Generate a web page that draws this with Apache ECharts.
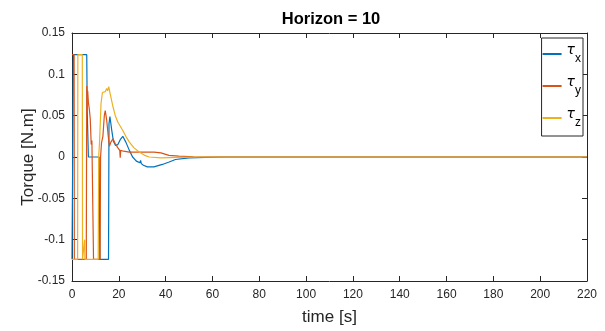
<!DOCTYPE html>
<html>
<head>
<meta charset="utf-8">
<script src="https://cdn.jsdelivr.net/npm/echarts@6/dist/echarts.min.js"></script>
<style>
html,body{margin:0;padding:0;background:#fff;}
#c{width:605px;height:331px;}
</style>
</head>
<body>
<div id="c"></div>
<script>
var S = 0.1238;
// tau_x (blue)
var tX   = [0, 0.5, 0.6, 6.3, 6.5, 7.0, 11.6, 11.8, 11.9, 15.6, 15.8, 16.2, 17.0, 17.7, 18.6, 19.6, 20.6, 21.7, 23.0, 24.5, 25.9, 27.5, 29.0, 29.3, 29.6, 30.5, 32.2, 35.0, 38.6, 41.5, 44.2, 50.0, 57.0, 65.0, 80.0, 220];
var tauX = [-S, -S, S, S, 0.055, 0, 0, -0.08, -S, -S, 0.04, 0.049, 0.032, 0.019, 0.014, 0.015, 0.021, 0.025, 0.018, 0.008, 0.0, -0.005, -0.007, -0.004, -0.008, -0.01, -0.012, -0.012, -0.009, -0.006, -0.003, -0.001, -0.0005, 0, 0, 0];
// tau_y (red)
var tY   = [0, 0.9, 1.0, 6.1, 6.3, 6.5, 6.7, 7.0, 7.4, 7.8, 8.2, 8.5, 9.2, 12.0, 12.2, 12.6, 13.2, 13.8, 14.2, 14.8, 15.5, 16.0, 16.6, 17.5, 18.5, 19.6, 20.4, 20.6, 20.8, 22.0, 24.5, 30.0, 35.0, 38.0, 41.4, 45.6, 52.0, 60.0, 220];
var tauY = [S, S, -S, -S, 0.086, 0.075, 0.08, 0.066, 0.058, 0.046, 0.015, 0.02, -S, -S, 0.0, 0.017, 0.025, 0.05, 0.056, 0.045, 0.025, 0.013, 0.018, 0.022, 0.016, 0.011, 0.008, -0.001, 0.008, 0.007, 0.006, 0.006, 0.006, 0.005, 0.002, 0.001, 0.0003, 0, 0];
// tau_z (yellow)
var tZ   = [0, 2.4, 2.5, 4.4, 4.5, 5.3, 5.4, 5.5, 11.2, 11.4, 11.8, 12.4, 13.0, 13.5, 14.2, 14.8, 15.2, 15.7, 16.2, 17.4, 18.5, 19.6, 21.7, 23.0, 24.5, 26.5, 28.7, 31.0, 33.0, 38.0, 45.0, 55.0, 220];
var tauZ = [-S, -S, S, S, -S, -S, -0.1, -S, -S, 0.0, 0.02, 0.065, 0.078, 0.080, 0.079, 0.083, 0.080, 0.085, 0.078, 0.062, 0.05, 0.042, 0.032, 0.025, 0.018, 0.011, 0.006, 0.002, 0.0, -0.001, -0.0005, 0, 0];

var seriesNames = ['x', 'y', 'z'];
var seriesColors = ['#0072BD', '#D95319', '#EDB120'];
var xTicks = [0, 220, 20];
var yTicks = [-0.15, 0.15, 0.05];

function zip(a, b) { return a.map(function (v, i) { return [v, b[i]]; }); }
var dataSets = [zip(tX, tauX), zip(tY, tauY), zip(tZ, tauZ)];

var axisCol = '#262626';
var chart = echarts.init(document.getElementById('c'), null, {renderer: 'canvas'});
function xAx(pos, showLabel) {
  return {
    type: 'value', position: pos, min: xTicks[0], max: xTicks[1], interval: xTicks[2],
    axisLine: {show: true, onZero: false, lineStyle: {color: axisCol, width: 1}},
    axisTick: {show: true, inside: true, length: 5, lineStyle: {color: axisCol}},
    axisLabel: {show: showLabel, color: axisCol, fontSize: 12, fontFamily: 'Liberation Sans, Arial', margin: 8},
    splitLine: {show: false},
    name: showLabel ? 'time [s]' : '', nameLocation: 'middle', nameGap: 28,
    nameTextStyle: {fontSize: 17, color: axisCol, fontFamily: 'Liberation Sans, Arial'}
  };
}
function yAx(pos, showLabel) {
  return {
    type: 'value', position: pos, min: yTicks[0], max: yTicks[1], interval: yTicks[2],
    axisLine: {show: true, onZero: false, lineStyle: {color: axisCol, width: 1}},
    axisTick: {show: true, inside: true, length: 5, lineStyle: {color: axisCol}},
    axisLabel: {show: showLabel, color: axisCol, fontSize: 12, fontFamily: 'Liberation Sans, Arial', margin: 7,
      formatter: function (v) { return String(+v.toFixed(2)); }},
    splitLine: {show: false},
    name: showLabel ? 'Torque [N.m]' : '', nameLocation: 'middle', nameGap: 35, nameMoveOverlap: false,
    nameTextStyle: {fontSize: 17, color: axisCol, fontFamily: 'Liberation Sans, Arial'}
  };
}

chart.setOption({
  animation: false,
  backgroundColor: '#fff',
  title: {
    text: 'Horizon = 10', left: 326, top: 6, textAlign: 'center',
    textStyle: {fontSize: 16.5, fontWeight: 'bold', color: '#000', fontFamily: 'Liberation Sans, Arial'}
  },
  grid: {left: 72, right: 18, top: 33, bottom: 46, containLabel: false},
  xAxis: [xAx('bottom', true), xAx('top', false)],
  yAxis: [yAx('left', true), yAx('right', false)],
  legend: {
    orient: 'vertical', right: 22, top: 38,
    backgroundColor: '#fff', borderColor: '#262626', borderWidth: 1, borderRadius: 0,
    padding: [5, 2, 7, 1], itemGap: 10, itemWidth: 19, itemHeight: 2, icon: 'rect',
    data: seriesNames.map(function (n) { return {name: n}; }),
    formatter: function (n) { return '{t|τ}{s|' + n + '}'; },
    textStyle: {
      color: '#000',
      rich: {
        t: {fontSize: 14, fontFamily: 'DejaVu Sans', fontStyle: 'italic', color: '#000', lineHeight: 22, verticalAlign: 'top'},
        s: {fontSize: 12, fontFamily: 'Liberation Sans, Arial', color: '#000', padding: [10, 0, 0, 0], lineHeight: 22, verticalAlign: 'top'}
      }
    }
  },
  series: dataSets.map(function (d, i) {
    return {
      name: seriesNames[i], type: 'line', data: d, showSymbol: false, symbol: 'none',
      xAxisIndex: 0, yAxisIndex: 0,
      lineStyle: {color: seriesColors[i], width: 1.2}, itemStyle: {color: seriesColors[i]},
      clip: true
    };
  })
});
</script>
</body>
</html>
